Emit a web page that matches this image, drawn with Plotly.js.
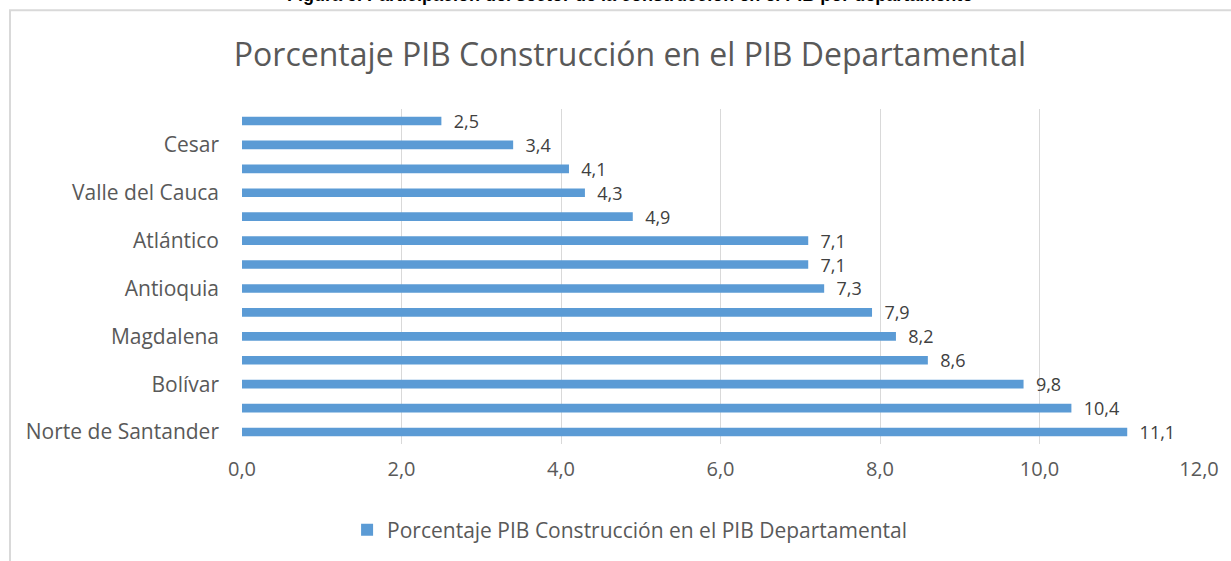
<!DOCTYPE html>
<html>
<head>
<meta charset="utf-8">
<script src="https://cdn.plot.ly/plotly-3.0.1.min.js"></script>
<style>
  html, body { margin: 0; padding: 0; background: #ffffff; }
  #chart { width: 1231px; height: 561px; }
</style>
</head>
<body>
<div id="chart"></div>
<script>
// Departments, bottom to top (only every second one is labelled in the original)
const categoryLabels = [
  "Norte de Santander", "", "Bolívar", "", "Magdalena", "", "Antioquia",
  "", "Atlántico", "", "Valle del Cauca", "", "Cesar", ""
];
const positions = [0, 1, 2, 3, 4, 5, 6, 7, 8, 9, 10, 11, 12, 13];
const values = [11.1, 10.4, 9.8, 8.6, 8.2, 7.9, 7.3, 7.1, 7.1, 4.9, 4.3, 4.1, 3.4, 2.5];
const seriesName = "Porcentaje PIB Construcción en el PIB Departamental";
const chartTitle = "Porcentaje PIB Construcción en el PIB Departamental";
const captionText = "Figura 5. Participación del sector de la construcción en el PIB por departamento";
const xTicks = [0, 2, 4, 6, 8, 10, 12];

const FONT = "Open Sans, Noto Sans, sans-serif";

const trace = {
  type: "bar",
  orientation: "h",
  name: seriesName,
  x: values,
  y: positions,
  marker: { color: "#5b9bd5" },
  texttemplate: "\u00a0\u00a0%{x:.1f}",
  textposition: "outside",
  constraintext: "none",
  cliponaxis: false,
  textfont: { family: FONT, size: 18, color: "#404040" },
  hoverinfo: "x+y",
  showlegend: true
};

const layout = {
  width: 1231,
  height: 561,
  margin: { l: 242, r: 32, t: 109, b: 116 },
  paper_bgcolor: "#ffffff",
  plot_bgcolor: "#ffffff",
  separators: ",.",
  font: { family: FONT, color: "#595959", size: 20 },
  bargap: 0.64,
  title: {
    text: chartTitle,
    font: { family: FONT, size: 32, color: "#595959" },
    x: 630 / 1231, xref: "container", xanchor: "center",
    y: 1 - 55 / 561, yref: "container", yanchor: "middle"
  },
  xaxis: {
    range: [0, 12],
    tickvals: xTicks,
    tickformat: ".1f",
    showgrid: true,
    gridcolor: "#d9d9d9",
    gridwidth: 1,
    zeroline: false,
    showline: false,
    ticks: "",
    ticklabelstandoff: 11,
    tickfont: { family: FONT, size: 20, color: "#595959" },
    fixedrange: true
  },
  yaxis: {
    range: [-0.5, 13.5],
    tickvals: positions,
    ticktext: categoryLabels,
    showgrid: false,
    zeroline: false,
    showline: false,
    ticks: "",
    ticklabelstandoff: 22,
    tickfont: { family: FONT, size: 21, color: "#595959" },
    fixedrange: true
  },
  legend: {
    orientation: "h",
    x: 0.405, xanchor: "center",
    y: -0.253, yanchor: "middle",
    font: { family: FONT, size: 21, color: "#595959" },
    itemwidth: 30
  },
  shapes: [{
    type: "rect",
    xref: "paper", yref: "paper",
    x0: -0.2424, x1: 1.1,
    y0: -0.6, y1: 1.2946,
    line: { color: "#d9d9d9", width: 2 },
    fillcolor: "rgba(0,0,0,0)",
    layer: "below"
  }],
  annotations: [{
    text: "<b>" + captionText + "</b>",
    xref: "paper", yref: "paper",
    x: 0.405, xanchor: "center",
    y: 1.3036, yanchor: "bottom",
    showarrow: false,
    font: { family: "Liberation Sans, Arial, sans-serif", size: 18, color: "#000000" }
  }]
};

Plotly.newPlot("chart", [trace], layout, { displayModeBar: false, staticPlot: true });
</script>
</body>
</html>
